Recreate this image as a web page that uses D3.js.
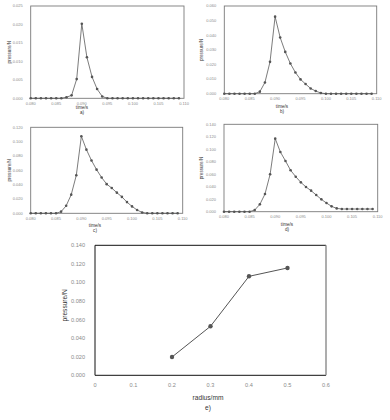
<!DOCTYPE html>
<html>
<head>
<meta charset="utf-8">
<script src="https://cdn.jsdelivr.net/npm/d3@7"></script>
<style>
  body { margin: 0; background: #fff; }
  svg { display: block; font-family: "Liberation Sans", Arial, sans-serif; }
</style>
</head>
<body>
<svg id="chart" width="390" height="420"></svg>
<script>
// time axis (s), shared by panels a-d
const times = [0.080, 0.081, 0.082, 0.083, 0.084, 0.085, 0.086, 0.087, 0.088, 0.089,
  0.090, 0.091, 0.092, 0.093, 0.094, 0.095, 0.096, 0.097, 0.098, 0.099,
  0.100, 0.101, 0.102, 0.103, 0.104, 0.105, 0.106, 0.107, 0.108, 0.109];

// pressure (N) per panel
const pressureA = [0, 0, 0, 0, 0, 0, 0, 0.0003, 0.0008, 0.0052,
  0.0202, 0.0111, 0.0058, 0.0025, 0.0005, 0, 0, 0, 0, 0,
  0, 0, 0, 0, 0, 0, 0, 0, 0, 0];
const pressureB = [0, 0, 0, 0, 0, 0, 0, 0.0014, 0.0077, 0.0218,
  0.0527, 0.0384, 0.0286, 0.0207, 0.0145, 0.0098, 0.0066, 0.0036, 0.0018, 0.0005,
  0, 0, 0, 0, 0, 0, 0, 0, 0, 0];
const pressureC = [0, 0, 0, 0, 0, 0, 0.0023, 0.0105, 0.026, 0.053,
  0.1075, 0.0888, 0.0737, 0.0609, 0.0499, 0.0407, 0.0352, 0.0288, 0.0229, 0.0156,
  0.0096, 0.0046, 0.0012, 0, 0, 0, 0, 0, 0, 0];
const pressureD = [0, 0, 0, 0, 0, 0, 0.0027, 0.0118, 0.0283, 0.0599,
  0.117, 0.0957, 0.0813, 0.0663, 0.0561, 0.047, 0.0396, 0.0337, 0.0267, 0.0198,
  0.0139, 0.0086, 0.0053, 0.0043, 0.0043, 0.0043, 0.0043, 0.0043, 0.0043, 0.0043];

// panel e: peak pressure vs radius
const radius = [0.2, 0.3, 0.4, 0.5];
const peakPressure = [0.0197, 0.0528, 0.1066, 0.1156];

const timeTicks = [0.080, 0.085, 0.090, 0.095, 0.100, 0.105, 0.110];
const radiusTicks = [0, 0.1, 0.2, 0.3, 0.4, 0.5, 0.6];

const svg = d3.select("#chart");
const tickColor = "#8a8a8a";

function drawTimePanel(p) {
  const x = d3.scaleLinear().domain([0.080, 0.110]).range([p.left, p.right]);
  const y = d3.scaleLinear().domain([0, p.yMax]).range([p.bottom, p.top]);
  const g = svg.append("g");

  // frame
  g.append("rect")
    .attr("x", p.left).attr("y", p.top)
    .attr("width", p.right - p.left).attr("height", p.bottom - p.top)
    .attr("fill", "none").attr("stroke", "#7a7a7a").attr("stroke-width", 0.9);

  // y tick labels
  g.selectAll(".ytick")
    .data(d3.range(0, p.yMax + p.yStep / 2, p.yStep))
    .join("text")
    .attr("x", p.left - 8)
    .attr("y", (d) => y(d) + 1.4)
    .attr("text-anchor", "end")
    .attr("font-size", 4)
    .attr("fill", tickColor)
    .text(d3.format(".3f"));

  // x tick labels
  g.selectAll(".xtick")
    .data(timeTicks)
    .join("text")
    .attr("x", (d) => x(d))
    .attr("y", p.bottom + 6.5)
    .attr("text-anchor", "middle")
    .attr("font-size", 4)
    .attr("fill", tickColor)
    .text(d3.format(".3f"));

  const pts = times.map((t, i) => [t, p.values[i]]);
  g.append("path")
    .datum(pts)
    .attr("fill", "none")
    .attr("stroke", "#5a5a5a")
    .attr("stroke-width", 0.8)
    .attr("d", d3.line().x((d) => x(d[0])).y((d) => y(d[1])));

  g.selectAll("circle")
    .data(pts)
    .join("circle")
    .attr("cx", (d) => x(d[0]))
    .attr("cy", (d) => y(d[1]))
    .attr("r", 1.3)
    .attr("fill", "#555");

  // axis titles
  g.append("text")
    .attr("transform", `translate(${p.ylabelX},${(p.top + p.bottom) / 2}) rotate(-90)`)
    .attr("text-anchor", "middle")
    .attr("font-size", 4.6)
    .attr("fill", "#333")
    .text("pressure/N");
  g.append("text")
    .attr("x", p.labelX).attr("y", p.timeY)
    .attr("text-anchor", "middle")
    .attr("font-size", 4.6)
    .attr("fill", "#333")
    .text("time/s");
  g.append("text")
    .attr("x", p.labelX).attr("y", p.timeY + 5)
    .attr("text-anchor", "middle")
    .attr("font-size", 4.6)
    .attr("fill", "#333")
    .text(p.tag);
}

drawTimePanel({left: 30.7, right: 184, top: 6, bottom: 98.3, yMax: 0.025, yStep: 0.005,
  values: pressureA, ylabelX: 11, labelX: 82, timeY: 108.5, tag: "a)"});
drawTimePanel({left: 224.3, right: 376.7, top: 6, bottom: 93.7, yMax: 0.06, yStep: 0.01,
  values: pressureB, ylabelX: 203, labelX: 282, timeY: 108, tag: "b)"});
drawTimePanel({left: 30.7, right: 182.7, top: 127.3, bottom: 213.3, yMax: 0.12, yStep: 0.02,
  values: pressureC, ylabelX: 11, labelX: 95, timeY: 227, tag: "c)"});
drawTimePanel({left: 224, right: 377.7, top: 124.3, bottom: 211.7, yMax: 0.14, yStep: 0.02,
  values: pressureD, ylabelX: 203, labelX: 287, timeY: 225.5, tag: "d)"});

// panel e
{
  const left = 95, right = 326, top = 245.3, bottom = 375.3;
  const x = d3.scaleLinear().domain([0, 0.6]).range([left, right]);
  const y = d3.scaleLinear().domain([0, 0.14]).range([bottom, top]);
  const g = svg.append("g");

  g.append("path")
    .attr("d", `M${right},${top}H${left}V${bottom}H${right}`)
    .attr("fill", "none").attr("stroke", "#111").attr("stroke-width", 1);
  g.append("line")
    .attr("x1", right).attr("x2", right).attr("y1", top).attr("y2", bottom)
    .attr("stroke", "#8a8a8a").attr("stroke-width", 1.4);

  g.selectAll(".ytick")
    .data(d3.range(0, 0.1401, 0.02))
    .join("text")
    .attr("x", left - 10)
    .attr("y", (d) => y(d) + 2)
    .attr("text-anchor", "end")
    .attr("font-size", 5.6)
    .attr("fill", tickColor)
    .text(d3.format(".3f"));

  g.selectAll(".xtick")
    .data(radiusTicks)
    .join("text")
    .attr("x", (d) => x(d))
    .attr("y", bottom + 12)
    .attr("text-anchor", "middle")
    .attr("font-size", 5.6)
    .attr("fill", tickColor)
    .text((d) => (d === 0 ? "0" : d3.format(".1f")(d)));

  const pts = radius.map((r, i) => [r, peakPressure[i]]);
  g.append("path")
    .datum(pts)
    .attr("fill", "none")
    .attr("stroke", "#555")
    .attr("stroke-width", 1)
    .attr("d", d3.line().x((d) => x(d[0])).y((d) => y(d[1])));
  g.selectAll("circle")
    .data(pts)
    .join("circle")
    .attr("cx", (d) => x(d[0]))
    .attr("cy", (d) => y(d[1]))
    .attr("r", 2.2)
    .attr("fill", "#555");

  g.append("text")
    .attr("transform", `translate(67,${(top + bottom) / 2 - 5}) rotate(-90)`)
    .attr("text-anchor", "middle")
    .attr("font-size", 6.6)
    .attr("fill", "#333")
    .text("pressure/N");
  g.append("text")
    .attr("x", 208).attr("y", 400)
    .attr("text-anchor", "middle")
    .attr("font-size", 6.6)
    .attr("fill", "#333")
    .text("radius/mm");
  g.append("text")
    .attr("x", 208).attr("y", 409.5)
    .attr("text-anchor", "middle")
    .attr("font-size", 6.6)
    .attr("fill", "#333")
    .text("e)");
}
</script>
</body>
</html>
